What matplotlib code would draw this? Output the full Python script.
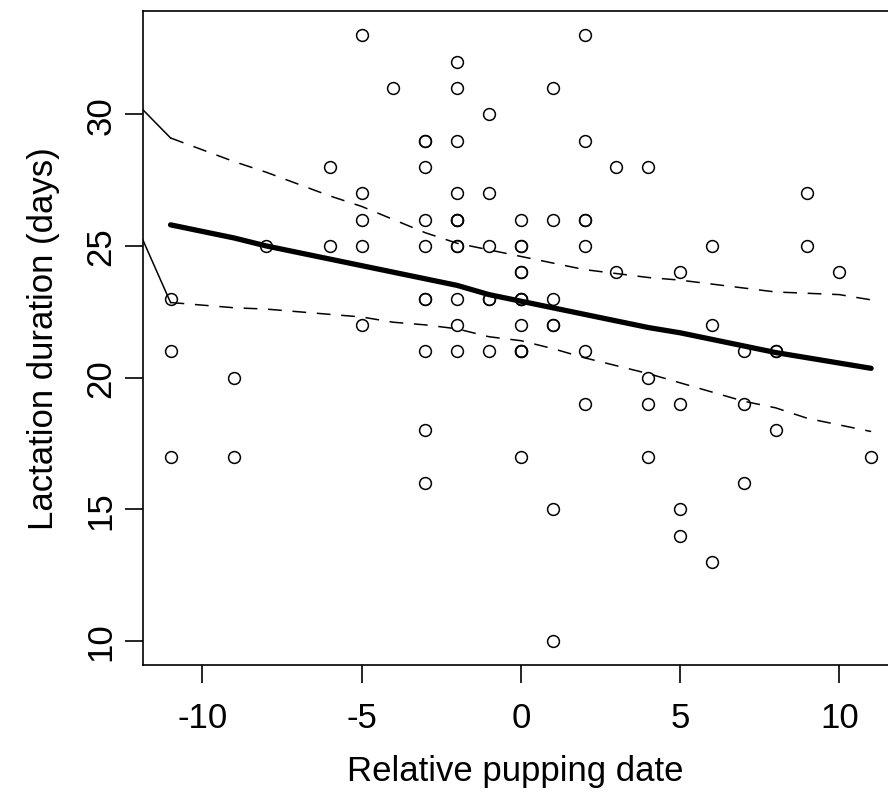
import matplotlib.pyplot as plt

plt.rcParams['font.family'] = ['Liberation Sans', 'DejaVu Sans']

# observed points: relative pupping date vs lactation duration
pup_date = ([-11] * 3 + [-9] * 2 + [-8] + [-6] * 2 + [-5] * 5 + [-4] + [-3] * 10 +
            [-2] * 12 + [-1] * 6 + [0] * 13 + [1] * 7 + [2] * 7 + [3] * 2 + [4] * 4 +
            [5] * 4 + [6] * 3 + [7] * 3 + [8] * 3 + [9] * 2 + [10] + [11])
lactation = [23, 21, 17,
             20, 17,
             25,
             28, 25,
             33, 27, 26, 25, 22,
             31,
             29, 29, 28, 26, 25, 23, 23, 21, 18, 16,
             32, 31, 29, 27, 26, 26, 26, 25, 25, 23, 22, 21,
             30, 27, 25, 23, 23, 21,
             26, 25, 25, 24, 24, 23, 23, 23, 22, 21, 21, 21, 17,
             31, 26, 23, 22, 22, 15, 10,
             33, 29, 26, 26, 25, 21, 19,
             28, 24,
             28, 20, 19, 17,
             24, 19, 15, 14,
             25, 22, 13,
             21, 19, 16,
             21, 21, 18,
             27, 25,
             24,
             17]

# fitted curve and confidence band at the unique dates
fit_x = [-11, -9, -8, -6, -5, -4, -3, -2, -1, 0, 1, 2, 3, 4, 5, 6, 7, 8, 9, 10, 11]
fit_y = [25.8, 25.3, 25.0, 24.5, 24.25, 24.0, 23.75, 23.5, 23.15, 22.9, 22.65,
         22.4, 22.15, 21.9, 21.7, 21.45, 21.2, 20.95, 20.75, 20.55, 20.35]
ci_upper = [29.1, 28.2, 27.8, 26.9, 26.5, 26.0, 25.5, 25.1, 24.85, 24.6, 24.35,
            24.1, 23.95, 23.8, 23.7, 23.55, 23.4, 23.25, 23.2, 23.15, 22.95]
ci_lower = [22.85, 22.65, 22.6, 22.4, 22.3, 22.1, 22.0, 21.85, 21.55, 21.4, 21.1,
            20.75, 20.45, 20.15, 19.8, 19.45, 19.1, 18.85, 18.45, 18.2, 17.95]
# short solid lead-in segments coming from outside the plot region
lead_x = [-12.5, -11]
lead_upper = [30.95, 29.1]
lead_lower = [26.95, 22.85]

x_ticks = [-10, -5, 0, 5, 10]
y_ticks = [10, 15, 20, 25, 30]

fig = plt.figure(figsize=(8.88, 8.04), dpi=100)
ax = fig.add_axes([0.1605, 0.1716, 0.8395, 0.8134])

ax.plot(pup_date, lactation, 'o', mfc='none', mec='black', ms=8.5, mew=1.1,
        linestyle='none', zorder=3)
ax.plot(fit_x, fit_y, color='black', lw=3.8, solid_capstyle='round', zorder=2)
ax.plot(fit_x, ci_upper, color='black', lw=1.1, linestyle=(0, (9, 7)))
ax.plot(fit_x, ci_lower, color='black', lw=1.1, linestyle=(0, (9, 7)))
ax.plot(lead_x, lead_upper, color='black', lw=1.1)
ax.plot(lead_x, lead_lower, color='black', lw=1.1)

ax.set_xlim(-11.88, 11.53)
ax.set_ylim(9.08, 33.92)
ax.set_xticks(x_ticks)
ax.set_xticklabels([str(t) for t in x_ticks])
ax.set_yticks(y_ticks)
ax.set_yticklabels([str(t) for t in y_ticks], rotation=90, va='center')

for side in ['left', 'bottom', 'top']:
    ax.spines[side].set_linewidth(1.2)
ax.spines['right'].set_visible(False)

ax.tick_params(axis='both', length=13, width=1.2, labelsize=25)
ax.tick_params(axis='x', pad=13)
ax.tick_params(axis='y', pad=5)
ax.set_xlabel('Relative pupping date', fontsize=25, labelpad=14)
ax.set_ylabel('Lactation duration (days)', fontsize=25, labelpad=18)

fig.savefig('out.png', dpi=100)
